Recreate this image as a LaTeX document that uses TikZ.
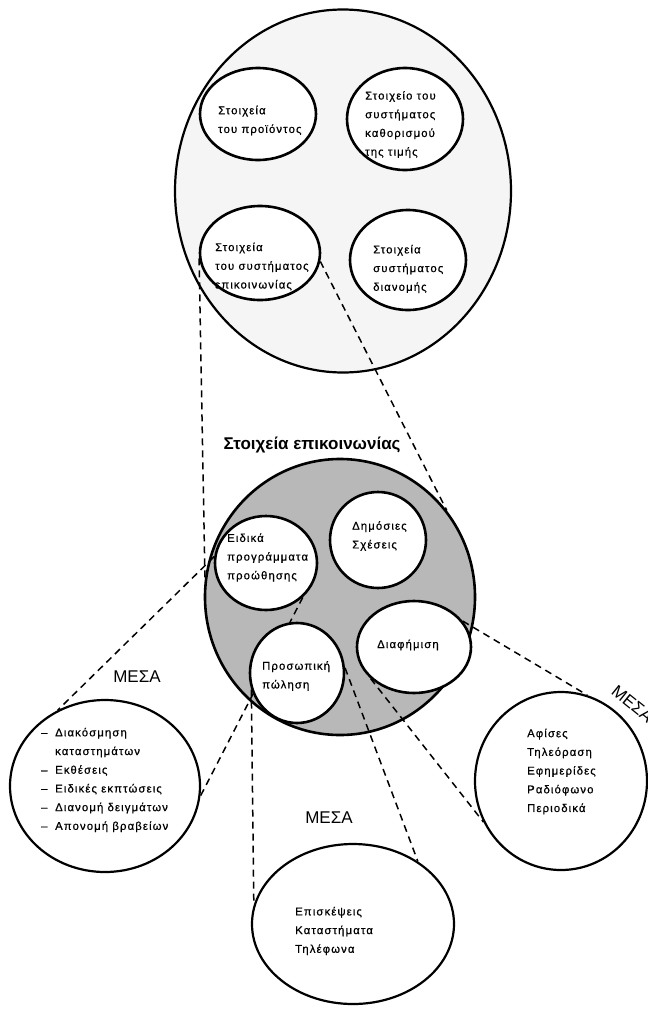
\documentclass[tikz,border=0pt]{standalone}
\usepackage{fontspec}
\newfontfamily\gr[LetterSpace=10,FakeBold=0.6]{Liberation Sans}
\newfontfamily\grh{Liberation Sans}
\usetikzlibrary{shapes.geometric}
\pgfdeclarelayer{back}
\pgfdeclarelayer{lines}
\pgfsetlayers{back,lines,main}
\begin{document}
\begin{tikzpicture}[x=1pt,y=-1pt,
  ring/.style={ellipse, draw, line width=2.6pt, fill=white, inner sep=0pt},
  media/.style={ellipse, draw, line width=2.2pt, fill=white, inner sep=0pt},
  txt/.style={font=\gr\fontsize{11.3}{18.7}\selectfont, align=left, inner sep=0pt, anchor=west},
  dsh/.style={dash pattern=on 7pt off 5pt, line width=1.5pt},
  mesa/.style={font=\grh\fontsize{17}{20}\selectfont, inner sep=0pt}]
\useasboundingbox (0,0) rectangle (648,1010);

\begin{pgfonlayer}{back}
\fill[white] (0,0) rectangle (648,1010);
\node[ellipse, draw, line width=2.2pt, fill=black!4, inner sep=0pt, minimum width=336pt, minimum height=363pt] (big) at (343,191) {};
\node[ellipse, draw, line width=2.6pt, fill=black!28, inner sep=0pt, minimum width=270pt, minimum height=276pt] (mid) at (340,597) {};
\end{pgfonlayer}

% top inner circles
\node[ring, minimum width=116pt, minimum height=92pt] (prod) at (258,114) {};
\node[ring, minimum width=116pt, minimum height=102pt] (price) at (405,119) {};
\node[ring, minimum width=120pt, minimum height=94pt] (epi) at (260,253) {};
\node[ring, minimum width=116pt, minimum height=100pt] (dist) at (408,260) {};

\node[txt] (tprod) at (218,120.5) {Στοιχεία\\του προϊόντος};
\node[txt] (tprice) at (365,124.5) {Στοιχείο του\\συστήματος\\καθορισμού\\της τιμής};
\node[txt] (tepi) at (215,266.5) {Στοιχεία\\του συστήματος\\επικοινωνίας};
\node[txt] (tdist) at (373,269) {Στοιχεία\\συστήματος\\διανομής};

% title
\node[font=\grh\bfseries\fontsize{17}{20}\selectfont, inner sep=0pt] (title) at (312,445) {Στοιχεία επικοινωνίας};

% middle inner circles
\node[ring, minimum width=102pt, minimum height=94pt] (eid) at (266,563) {};
\node[ring, minimum width=96pt, minimum height=96pt] (dim) at (378,540) {};
\node[ring, minimum width=114pt, minimum height=92pt] (diaf) at (414,647) {};
\node[ring, minimum width=94pt, minimum height=100pt] (pros) at (297,673) {};

\node[txt] (teid) at (227,557.5) {Ειδικά\\προγράμματα\\προώθησης};
\node[txt] (tdim) at (352,536) {Δημόσιες\\Σχέσεις};
\node[txt] (tdiaf) at (377,645) {Διαφήμιση};
\node[txt] (tpros) at (262,676) {Προσωπική\\πώληση};

% media circles
\node[media, minimum width=190pt, minimum height=172pt] (mediaL) at (105,786) {};
\node[media, minimum width=172pt, minimum height=178pt] (mediaR) at (561,781) {};
\node[media, minimum width=202pt, minimum height=160pt] (mediaB) at (353,924) {};

\node[txt] (tL) at (41,780) {\makebox[14pt][l]{–}Διακόσμηση\\\makebox[14pt][l]{}καταστημάτων\\\makebox[14pt][l]{–}Εκθέσεις\\\makebox[14pt][l]{–}Ειδικές εκπτώσεις\\\makebox[14pt][l]{–}Διανομή δειγμάτων\\\makebox[14pt][l]{–}Απονομή βραβείων};
\node[txt] (tR) at (527,771.5) {Αφίσες\\Τηλεόραση\\Εφημερίδες\\Ραδιόφωνο\\Περιοδικά};
\node[txt] (tB) at (295,931) {Επισκέψεις\\Καταστήματα\\Τηλέφωνα};

\node[mesa] (mL) at (137,677) {ΜΕΣΑ};
\node[mesa] (mB) at (329,818) {ΜΕΣΑ};
\node[mesa, anchor=west, rotate=-39] (mR) at (614,689) {ΜΕΣΑ};

\begin{pgfonlayer}{lines}
\draw[dsh] (epi.185) -- (mid.172);
\draw[dsh] (epi.352) -- (mid.39);
\draw[dsh] (eid.173) -- (mediaL.122);
\draw[dsh] (eid.317) -- (mediaL.354);
\draw[dsh] (pros.200) -- (mediaB.169);
\draw[dsh] (pros.6) -- (mediaB.44);
\draw[dsh] (diaf.28) -- (mediaR.73);
\draw[dsh] (diaf.216) -- (mediaR.208);
\end{pgfonlayer}
\end{tikzpicture}
\end{document}
